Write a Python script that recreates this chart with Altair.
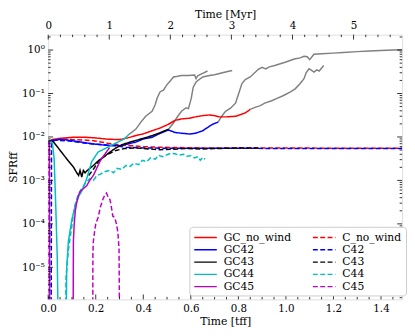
import altair as alt
import pandas as pd

FONT = "DejaVu Serif"

# ---------------- data ----------------
# solid runs
gc_nowind_t = [0.0, 0.02, 0.05, 0.1, 0.15, 0.2, 0.25, 0.3, 0.334, 0.37, 0.4, 0.437, 0.47, 0.506, 0.533, 0.56, 0.595, 0.62, 0.65, 0.678, 0.7, 0.72, 0.75, 0.79, 0.83, 0.85]
gc_nowind_v = [0.0078, 0.0088, 0.0093, 0.0098, 0.0099, 0.0095, 0.0089, 0.0087, 0.0095, 0.0108, 0.0118, 0.0139, 0.016, 0.0196, 0.024, 0.026, 0.027, 0.029, 0.031, 0.032, 0.031, 0.029, 0.029, 0.03, 0.036, 0.043]

gc42_t = [0.0, 0.02, 0.05, 0.08, 0.12, 0.16, 0.19, 0.25, 0.3, 0.33, 0.368, 0.4, 0.437, 0.465, 0.506, 0.533, 0.56, 0.595, 0.62, 0.65, 0.67, 0.692, 0.715]
gc42_v = [0.0078, 0.0084, 0.0088, 0.0085, 0.0079, 0.0073, 0.0069, 0.0064, 0.0063, 0.0068, 0.0076, 0.009, 0.0098, 0.0117, 0.0145, 0.0127, 0.0122, 0.0117, 0.0122, 0.0139, 0.0165, 0.0196, 0.022]

gc43_t = [0.0, 0.02, 0.04, 0.066, 0.085, 0.107, 0.12, 0.128, 0.134, 0.141, 0.148, 0.155, 0.165, 0.19, 0.21, 0.231, 0.26, 0.285, 0.313, 0.34, 0.368, 0.4, 0.437, 0.47, 0.506]
gc43_v = [0.0078, 0.0079, 0.0058, 0.0038, 0.0028, 0.002, 0.0015, 0.0013, 0.0017, 0.0012, 0.0017, 0.0015, 0.0017, 0.0022, 0.0028, 0.0034, 0.0045, 0.0056, 0.0067, 0.0075, 0.0083, 0.0093, 0.0107, 0.0125, 0.0151]

gc44_a_t = [0.0, 0.012, 0.018, 0.025, 0.032, 0.038, 0.046]
gc44_a_v = [0.0078, 0.0078, 0.0069, 0.0032, 0.00024, 1.8e-5, 1e-8]
gc44_b_t = [0.072, 0.078, 0.085, 0.1, 0.115, 0.13, 0.141, 0.162, 0.183, 0.21, 0.25, 0.293, 0.32, 0.34]
gc44_b_v = [1e-8, 1e-5, 4e-5, 1.3e-4, 2.8e-4, 4.5e-4, 5.6e-4, 0.0011, 0.0027, 0.0045, 0.0058, 0.0076, 0.009, 0.0115]

gc45_a_t = [0.0, 0.005, 0.007]
gc45_a_v = [0.0078, 0.0075, 1e-8]
gc45_b_t = [0.104, 0.106, 0.109, 0.114, 0.12, 0.128, 0.135, 0.148, 0.162, 0.172, 0.19, 0.2, 0.217, 0.232, 0.245, 0.258]
gc45_b_v = [1e-8, 4e-5, 9e-5, 2e-4, 3.1e-4, 4.6e-4, 5.6e-4, 6.5e-4, 7.5e-4, 9.5e-4, 0.0013, 0.0017, 0.0027, 0.0036, 0.0045, 0.0057]

# dashed runs
c_nowind_t = [0.0, 0.03, 0.06, 0.1, 0.15, 0.19, 0.25, 0.3, 0.35, 0.4, 0.465, 0.55, 0.65, 0.8, 1.0, 1.2, 1.489]
c_nowind_v = [0.0078, 0.0086, 0.009, 0.0087, 0.0085, 0.0082, 0.0072, 0.0066, 0.0063, 0.006, 0.0058, 0.0057, 0.0056, 0.0056, 0.0056, 0.0055, 0.0055]

c42_t = [0.012, 0.014, 0.03, 0.052, 0.087, 0.15, 0.19, 0.224, 0.29, 0.327, 0.4, 0.5, 0.6, 0.8, 1.0, 1.2, 1.489]
c42_v = [1e-8, 0.0078, 0.0084, 0.0083, 0.0081, 0.0073, 0.0069, 0.0067, 0.0062, 0.0058, 0.0056, 0.0055, 0.0055, 0.0055, 0.0054, 0.0054, 0.0054]

c43_t = [0.17, 0.19, 0.2, 0.215, 0.231, 0.25, 0.285, 0.32, 0.368, 0.42, 0.47, 0.52, 0.58, 0.643, 0.7, 0.76, 0.82, 0.884]
c43_v = [0.0013, 0.0018, 0.0022, 0.0029, 0.0034, 0.004, 0.0049, 0.0054, 0.0056, 0.0053, 0.0051, 0.0052, 0.0054, 0.0053, 0.0054, 0.0055, 0.0056, 0.0056]

c44_t = [0.07, 0.075, 0.085, 0.095, 0.105, 0.115, 0.125, 0.14, 0.16, 0.175, 0.19, 0.205, 0.22, 0.24, 0.259, 0.275, 0.29, 0.31, 0.327, 0.345, 0.36, 0.38, 0.396, 0.415, 0.43, 0.45, 0.465, 0.48, 0.5, 0.515, 0.533, 0.55, 0.57, 0.585, 0.6, 0.615, 0.63, 0.64, 0.65, 0.66]
c44_v = [1e-8, 6e-6, 2.5e-5, 6e-5, 1.5e-4, 3e-4, 4.5e-4, 6.5e-4, 9e-4, 0.0011, 0.001, 0.0013, 0.0014, 0.0016, 0.0017, 0.0015, 0.0019, 0.0018, 0.0022, 0.0021, 0.0025, 0.0023, 0.0029, 0.0027, 0.0033, 0.0031, 0.0038, 0.0035, 0.0039, 0.0042, 0.0041, 0.0038, 0.004, 0.0036, 0.0037, 0.0033, 0.0035, 0.0029, 0.0034, 0.0031]

c45_a_t = [0.0, 0.003, 0.0045]
c45_a_v = [0.0078, 0.0072, 1e-8]
c45_b_t = [0.187, 0.188, 0.19, 0.195, 0.2, 0.21, 0.22, 0.231, 0.24, 0.245, 0.252, 0.26, 0.265, 0.272, 0.28, 0.287, 0.293, 0.298, 0.302]
c45_b_v = [1e-8, 2e-5, 4e-5, 6.5e-5, 1e-4, 1.4e-4, 2.5e-4, 3.8e-4, 4.8e-4, 5.1e-4, 4.2e-4, 3.6e-4, 2.6e-4, 1.5e-4, 1.4e-4, 1e-4, 6.5e-5, 2.7e-5, 1e-8]

# grey continuations
grey_a_t = [0.34, 0.368, 0.39, 0.41, 0.437, 0.45, 0.458, 0.471, 0.485, 0.499, 0.515, 0.527, 0.545, 0.56, 0.59, 0.616, 0.622, 0.63, 0.65, 0.67]
grey_a_v = [0.0115, 0.015, 0.022, 0.03, 0.039, 0.055, 0.078, 0.11, 0.12, 0.158, 0.2, 0.24, 0.25, 0.26, 0.26, 0.265, 0.22, 0.26, 0.29, 0.33]
grey_b_t = [0.506, 0.527, 0.545, 0.561, 0.58, 0.59, 0.602, 0.61, 0.623, 0.65, 0.678, 0.7, 0.733, 0.755, 0.774]
grey_b_v = [0.0151, 0.021, 0.03, 0.039, 0.047, 0.045, 0.078, 0.14, 0.187, 0.24, 0.26, 0.27, 0.3, 0.32, 0.34]
grey_c_t = [0.715, 0.73, 0.746, 0.767, 0.788, 0.8, 0.815, 0.829, 0.85, 0.884, 0.9, 0.915, 0.93, 0.953, 0.98, 1.0, 1.035, 1.06, 1.076, 1.09, 1.1, 1.118, 1.15, 1.2, 1.241, 1.3, 1.35, 1.4, 1.45, 1.489]
grey_c_v = [0.022, 0.03, 0.039, 0.046, 0.06, 0.095, 0.17, 0.21, 0.24, 0.36, 0.4, 0.37, 0.41, 0.44, 0.49, 0.53, 0.62, 0.66, 0.72, 0.7, 0.6, 0.8, 0.82, 0.85, 0.88, 0.92, 0.95, 0.98, 1.0, 1.02]
grey_d_t = [0.85, 0.87, 0.89, 0.911, 0.94, 0.965, 0.99, 1.021, 1.04, 1.06, 1.076, 1.085, 1.097, 1.105, 1.118, 1.13, 1.14, 1.159]
grey_d_v = [0.043, 0.048, 0.052, 0.06, 0.068, 0.078, 0.09, 0.111, 0.13, 0.17, 0.22, 0.3, 0.37, 0.35, 0.31, 0.35, 0.33, 0.44]

series_order = ["GC_no_wind", "GC42", "GC43", "GC44", "GC45", "C_no_wind", "C42", "C43", "C44", "C45"]
series_colors = ["#ff0000", "#0000ff", "#000000", "#00bfbf", "#bf00bf", "#ff0000", "#0000ff", "#000000", "#00bfbf", "#bf00bf"]
series_dash = [[1, 0], [1, 0], [1, 0], [1, 0], [1, 0], [5, 2.5], [5, 2.5], [5, 2.5], [5, 2.5], [5, 2.5]]

x_ticks_major = [0.0, 0.2, 0.4, 0.6, 0.8, 1.0, 1.2, 1.4]
x_ticks_minor = [0.05, 0.1, 0.15, 0.25, 0.3, 0.35, 0.45, 0.5, 0.55, 0.65, 0.7, 0.75, 0.85, 0.9, 0.95, 1.05, 1.1, 1.15, 1.25, 1.3, 1.35, 1.45]
myr_ticks_major = [0, 1, 2, 3, 4, 5]
myr_ticks_minor = [0.2, 0.4, 0.6, 0.8, 1.2, 1.4, 1.6, 1.8, 2.2, 2.4, 2.6, 2.8, 3.2, 3.4, 3.6, 3.8, 4.2, 4.4, 4.6, 4.8, 5.2, 5.4, 5.6]
y_ticks_major = [1.0, 0.1, 0.01, 0.001, 0.0001, 0.00001]
y_tick_labels = ["10⁰", "10⁻¹", "10⁻²", "10⁻³", "10⁻⁴", "10⁻⁵"]
y_ticks_minor = [m * 10.0 ** k for k in range(-6, 1) for m in range(2, 10) if 1.83e-6 < m * 10.0 ** k < 2.26]

X_DOMAIN = [0, 1.4887]
MYR_DOMAIN = [0, 5.795]
Y_DOMAIN = [1.83e-6, 2.26]
W, H = 361, 270

# ---------------- tables ----------------
rows = []
def add(series, seg, ts, vs):
    for i, (t, v) in enumerate(zip(ts, vs)):
        rows.append({"series": series, "seg": series + "-" + seg, "i": i, "t": t, "v": v})

add("C_no_wind", "a", c_nowind_t, c_nowind_v)
add("C42", "a", c42_t, c42_v)
add("C43", "a", c43_t, c43_v)
add("C44", "a", c44_t, c44_v)
add("C45", "a", c45_a_t, c45_a_v)
add("C45", "b", c45_b_t, c45_b_v)
add("GC_no_wind", "a", gc_nowind_t, gc_nowind_v)
add("GC42", "a", gc42_t, gc42_v)
add("GC43", "a", gc43_t, gc43_v)
add("GC44", "a", gc44_a_t, gc44_a_v)
add("GC44", "b", gc44_b_t, gc44_b_v)
add("GC45", "a", gc45_a_t, gc45_a_v)
add("GC45", "b", gc45_b_t, gc45_b_v)
df_col = pd.DataFrame(rows)

grows = []
for name, ts, vs in [("A", grey_a_t, grey_a_v), ("B", grey_b_t, grey_b_v),
                     ("C", grey_c_t, grey_c_v), ("D", grey_d_t, grey_d_v)]:
    for i, (t, v) in enumerate(zip(ts, vs)):
        grows.append({"seg": name, "i": i, "t": t, "v": v})
df_grey = pd.DataFrame(grows)

# ---------------- scales & axes ----------------
xscale = alt.Scale(domain=X_DOMAIN, nice=False, zero=False)
myrscale = alt.Scale(domain=MYR_DOMAIN, nice=False, zero=False)
yscale = alt.Scale(type="log", domain=Y_DOMAIN, nice=False)

label_js = "[" + ",".join("'" + s + "'" for s in y_tick_labels) + "]"

xaxis = alt.Axis(values=x_ticks_major, format=".1f", title="Time [tff]", ticks=False, domain=False,
                 grid=False, labelFlush=False, labelFont=FONT, labelFontSize=10.5, labelPadding=4,
                 labelColor="black", titleFont=FONT, titleFontSize=11, titleFontWeight="normal",
                 titleColor="black", titlePadding=2)
myraxis = alt.Axis(values=myr_ticks_major, format="d", title="Time [Myr]", orient="top", ticks=False,
                   domain=False, grid=False, labelFlush=False, labelFont=FONT, labelFontSize=10.5,
                   labelPadding=4, labelColor="black", titleFont=FONT, titleFontSize=11,
                   titleFontWeight="normal", titleColor="black", titlePadding=2)
yaxis = alt.Axis(values=y_ticks_major, labelExpr=label_js + "[round(-log(datum.value)/LN10)]",
                 title="SFRff", ticks=False, domain=False, grid=False, labelOverlap=False,
                 labelFont=FONT, labelFontSize=10.5, labelPadding=4, labelColor="black",
                 titleFont=FONT, titleFontSize=11, titleFontWeight="normal", titleColor="black",
                 titlePadding=3)

legend = alt.Legend(title=None, orient="none", legendX=144, legendY=196, columns=2,
                    symbolType="M-1,0H2.833", symbolSize=144, symbolStrokeWidth=1.5,
                    labelFont=FONT, labelFontSize=11, labelColor="black", labelOffset=17,
                    columnPadding=19, rowPadding=0.5, padding=4, strokeColor="#cccccc",
                    fillColor="white", cornerRadius=3)

grey = alt.Chart(df_grey).mark_line(color="#808080", strokeWidth=1.5, clip=True).encode(
    x=alt.X("t:Q", scale=xscale, axis=xaxis),
    y=alt.Y("v:Q", scale=yscale, axis=yaxis),
    detail="seg:N",
    order="i:Q",
)

lines = alt.Chart(df_col).mark_line(strokeWidth=1.5, clip=True).encode(
    x=alt.X("t:Q", scale=xscale, axis=xaxis),
    y=alt.Y("v:Q", scale=yscale, axis=yaxis),
    color=alt.Color("series:N", scale=alt.Scale(domain=series_order, range=series_colors), legend=legend),
    strokeDash=alt.StrokeDash("series:N", scale=alt.Scale(domain=series_order, range=series_dash), legend=legend),
    detail="seg:N",
    order="i:Q",
)

MAJ, MIN = 5, 2.5

def xticks(vals, L):
    d = pd.DataFrame({"t": vals})
    return alt.Chart(d).mark_rule(color="black", strokeWidth=0.8).encode(
        x=alt.X("t:Q", scale=xscale, axis=xaxis),
        y=alt.value(H), y2=alt.value(H - L))

def yticks(vals, L, right=False):
    d = pd.DataFrame({"v": vals})
    if right:
        return alt.Chart(d).mark_rule(color="black", strokeWidth=0.8).encode(
            y=alt.Y("v:Q", scale=yscale, axis=yaxis), x=alt.value(W), x2=alt.value(W - L))
    return alt.Chart(d).mark_rule(color="black", strokeWidth=0.8).encode(
        y=alt.Y("v:Q", scale=yscale, axis=yaxis), x=alt.value(0), x2=alt.value(L))

def mticks(vals, L):
    d = pd.DataFrame({"m": vals})
    return alt.Chart(d).mark_rule(color="black", strokeWidth=0.8).encode(
        x=alt.X("m:Q", scale=myrscale, axis=myraxis),
        y=alt.value(0), y2=alt.value(L))

inner = alt.layer(
    grey, lines,
    xticks(x_ticks_major, MAJ), xticks(x_ticks_minor, MIN),
    yticks(y_ticks_major, MAJ), yticks(y_ticks_minor, MIN),
    yticks(y_ticks_major, MAJ, True), yticks(y_ticks_minor, MIN, True),
)
top = alt.layer(mticks(myr_ticks_major, MAJ), mticks(myr_ticks_minor, MIN))

chart = alt.layer(inner, top).resolve_scale(x="independent").properties(
    width=W, height=H,
    autosize=alt.AutoSizeParams(type="none"),
    padding={"left": 41, "top": 24, "right": 5, "bottom": 26},
).configure_view(stroke="black", strokeWidth=1).configure(background="white")

chart.save("out.html", embed_options={"renderer": "svg", "actions": False})
